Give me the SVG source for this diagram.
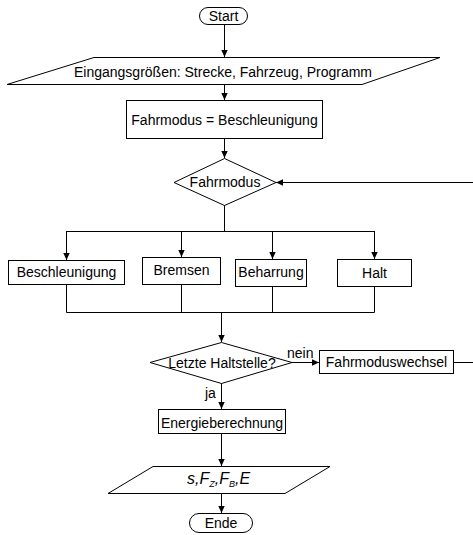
<svg xmlns="http://www.w3.org/2000/svg" width="473" height="535" viewBox="0 0 473 535">
<defs>
<style>
.s{fill:#fff;stroke:#000;stroke-width:1}
.t{font-family:"Liberation Sans",Arial,sans-serif;font-size:14px;fill:#000;text-anchor:middle}
.l{font-family:"Liberation Sans",Arial,sans-serif;font-size:14px;fill:#000}
.c{fill:none;stroke:#000;stroke-width:1}
.i{font-style:italic;font-size:16px}
</style>
<marker id="a" markerWidth="8" markerHeight="8" refX="7" refY="4" orient="auto" markerUnits="userSpaceOnUse">
<path d="M0,0.8 L7,4 L0,7.2 Z" fill="#000"/>
</marker>
</defs>
<g id="connectors">
<path class="c" d="M224.5,24 V57" marker-end="url(#a)"/>
<path class="c" d="M224.5,84 V100" marker-end="url(#a)"/>
<path class="c" d="M224.5,138 V158" marker-end="url(#a)"/>
<path class="c" d="M473,182.5 H276" marker-end="url(#a)"/>
<path class="c" d="M224.5,205 V231.5 M66.5,231.5 H374.5"/>
<path class="c" d="M66.5,231 V260" marker-end="url(#a)"/>
<path class="c" d="M181.5,231 V257" marker-end="url(#a)"/>
<path class="c" d="M272.5,231 V259" marker-end="url(#a)"/>
<path class="c" d="M374.5,231 V259" marker-end="url(#a)"/>
<path class="c" d="M66.5,284 V312.5 H374.5 V286 M181.5,284 V312.5 M272.5,286 V312.5"/>
<path class="c" d="M221.5,312 V342" marker-end="url(#a)"/>
<path class="c" d="M292,362.5 H319" marker-end="url(#a)"/>
<path class="c" d="M454,362.5 H473"/>
<path class="c" d="M221.5,383 V409" marker-end="url(#a)"/>
<path class="c" d="M221.5,433 V466" marker-end="url(#a)"/>
<path class="c" d="M221.5,493 V513" marker-end="url(#a)"/>
<text class="l" x="287" y="358">nein</text>
<text class="l" x="205" y="398">ja</text>
</g>
<g id="start">
<rect class="s" x="199.5" y="7.5" width="48" height="17" rx="8.5"/>
<text class="t" x="223.5" y="21">Start</text>
</g>
<g id="input">
<polygon class="s" points="94,57.5 440,57.5 362,84.5 7,84.5"/>
<text class="t" x="223" y="77">Eingangsgrößen: Strecke, Fahrzeug, Programm</text>
</g>
<g id="init">
<rect class="s" x="126.5" y="100.5" width="196" height="38"/>
<text class="t" x="224.5" y="125">Fahrmodus = Beschleunigung</text>
</g>
<g id="mode">
<polygon class="s" points="224.5,158.5 276,182.5 224.5,205.5 174,182.5"/>
<text class="t" x="225" y="187">Fahrmodus</text>
</g>
<g id="beschleunigung">
<rect class="s" x="8.5" y="260.5" width="116" height="24"/>
<text class="t" x="66.5" y="277">Beschleunigung</text>
</g>
<g id="bremsen">
<rect class="s" x="142.5" y="257.5" width="78" height="27"/>
<text class="t" x="181.5" y="275">Bremsen</text>
</g>
<g id="beharrung">
<rect class="s" x="235.5" y="259.5" width="71" height="27"/>
<text class="t" x="271" y="277">Beharrung</text>
</g>
<g id="halt">
<rect class="s" x="337.5" y="259.5" width="74" height="27"/>
<text class="t" x="374.5" y="278">Halt</text>
</g>
<g id="letzte">
<polygon class="s" points="221.5,342.5 292,362.5 221.5,383.5 150,362.5"/>
<text class="t" x="222" y="368">Letzte Haltstelle?</text>
</g>
<g id="wechsel">
<rect class="s" x="319.5" y="350.5" width="134" height="23"/>
<text class="t" x="386.5" y="367">Fahrmoduswechsel</text>
</g>
<g id="energie">
<rect class="s" x="158.5" y="409.5" width="127" height="24"/>
<text class="t" x="222" y="428">Energieberechnung</text>
</g>
<g id="output">
<polygon class="s" points="153,466.5 330,466.5 285,493.5 108,493.5"/>
<text class="l i" x="187" y="484">s,F<tspan font-size="9" dy="3">Z</tspan><tspan dy="-3">,F</tspan><tspan font-size="9" dy="3">B</tspan><tspan dy="-3">,E</tspan></text>
</g>
<g id="ende">
<rect class="s" x="189.5" y="513.5" width="63" height="19" rx="9.5"/>
<text class="t" x="221" y="528">Ende</text>
</g>
</svg>
